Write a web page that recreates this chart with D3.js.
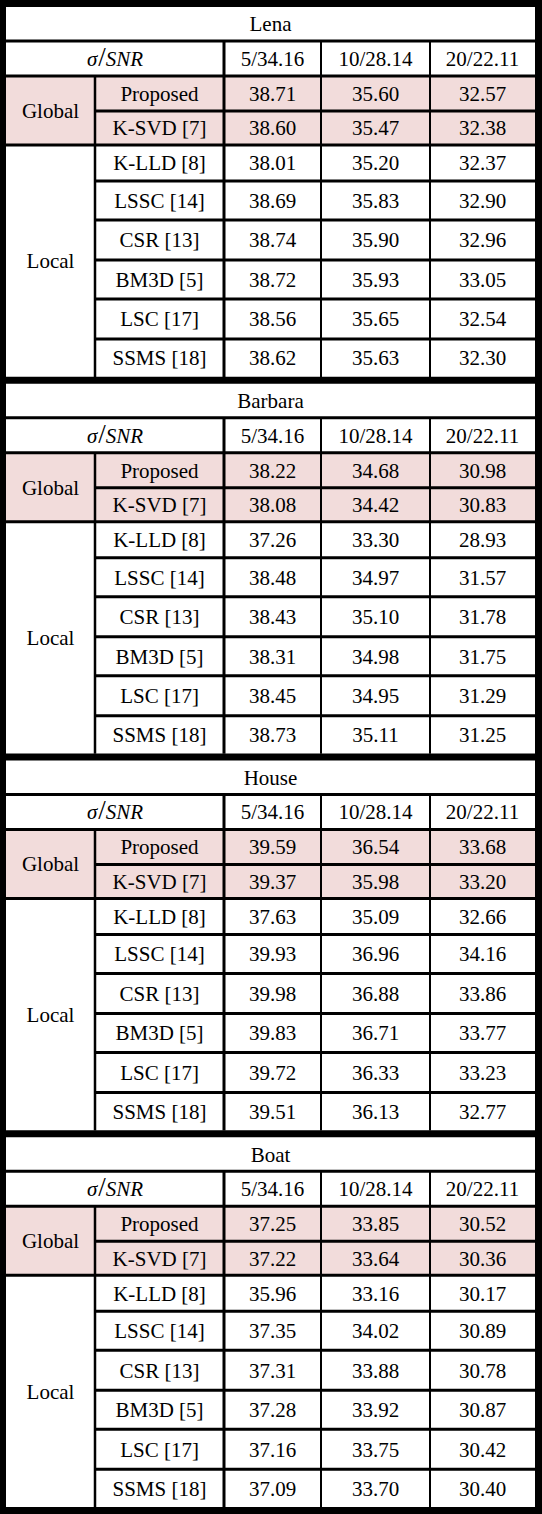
<!DOCTYPE html>
<html>
<head>
<meta charset="utf-8">
<script src="https://cdn.jsdelivr.net/npm/d3@7"></script>
<style>
  body { margin: 0; background: #fff; }
</style>
</head>
<body>
<script>
// table content
const images = ["Lena", "Barbara", "House", "Boat"];
const noiseLevels = ["5/34.16", "10/28.14", "20/22.11"];
const globalMethods = ["Proposed", "K-SVD [7]"];
const localMethods = ["K-LLD [8]", "LSSC [14]", "CSR [13]", "BM3D [5]", "LSC [17]", "SSMS [18]"];

// PSNR per image, rows = Proposed, K-SVD, K-LLD, LSSC, CSR, BM3D, LSC, SSMS
const lenaPSNR = [
  [38.71, 35.60, 32.57], [38.60, 35.47, 32.38],
  [38.01, 35.20, 32.37], [38.69, 35.83, 32.90], [38.74, 35.90, 32.96],
  [38.72, 35.93, 33.05], [38.56, 35.65, 32.54], [38.62, 35.63, 32.30]
];
const barbaraPSNR = [
  [38.22, 34.68, 30.98], [38.08, 34.42, 30.83],
  [37.26, 33.30, 28.93], [38.48, 34.97, 31.57], [38.43, 35.10, 31.78],
  [38.31, 34.98, 31.75], [38.45, 34.95, 31.29], [38.73, 35.11, 31.25]
];
const housePSNR = [
  [39.59, 36.54, 33.68], [39.37, 35.98, 33.20],
  [37.63, 35.09, 32.66], [39.93, 36.96, 34.16], [39.98, 36.88, 33.86],
  [39.83, 36.71, 33.77], [39.72, 36.33, 33.23], [39.51, 36.13, 32.77]
];
const boatPSNR = [
  [37.25, 33.85, 30.52], [37.22, 33.64, 30.36],
  [35.96, 33.16, 30.17], [37.35, 34.02, 30.89], [37.31, 33.88, 30.78],
  [37.28, 33.92, 30.87], [37.16, 33.75, 30.42], [37.09, 33.70, 30.40]
];
const psnr = [lenaPSNR, barbaraPSNR, housePSNR, boatPSNR];

const W = 542, H = 1514;
const border = 7;
const colEdges = [6, 95, 224, 321, 430, 535];
const rowH = [34, 35, 35, 34, 36, 39, 40, 39, 40, 38]; // title, header, 2 global, 6 local
const pink = "#f2dcdb";
const serif = "'Liberation Serif', Tinos, 'Times New Roman', Times, 'DejaVu Serif', serif";

const fmt = d3.format(".2f");
const sectionY = d3.scaleLinear().domain([0, images.length]).range([0, H - border]);
const colMid = i => (colEdges[i] + colEdges[i + 1]) / 2;
const valueX = d3.scaleOrdinal().domain(noiseLevels).range(noiseLevels.map((d, i) => colMid(i + 2)));

const svg = d3.select("body").append("svg").attr("width", W).attr("height", H)
  .attr("font-family", serif).attr("font-size", 21);
svg.append("rect").attr("width", W).attr("height", H).attr("fill", "#fff");

const gText = svg.append("g");
const gLines = svg.append("g");

function hline(y, x1, x2, w) {
  gLines.append("line").attr("x1", x1).attr("x2", x2).attr("y1", y).attr("y2", y)
    .attr("stroke", "#000").attr("stroke-width", w);
}
function vline(x, y1, y2, w) {
  gLines.append("line").attr("x1", x).attr("x2", x).attr("y1", y1).attr("y2", y2)
    .attr("stroke", "#000").attr("stroke-width", w);
}
function label(x, y, t) {
  return gText.append("text").attr("x", x).attr("y", y).attr("dy", "0.35em")
    .attr("text-anchor", "middle").style("font-family", serif).attr("fill", "#000").text(t);
}

images.forEach(function (name, k) {
  const top = sectionY(k) + border;
  const edges = [top];
  rowH.forEach(h => edges.push(edges[edges.length - 1] + h));
  const mid = i => (edges[i] + edges[i + 1]) / 2;

  // global band
  gText.append("rect")
    .attr("x", colEdges[0]).attr("y", edges[2])
    .attr("width", colEdges[5] - colEdges[0]).attr("height", edges[4] - edges[2])
    .attr("fill", pink);

  label((colEdges[0] + colEdges[5]) / 2, mid(0), name);

  const hdr = label((colEdges[0] + colEdges[2]) / 2, mid(1), null);
  hdr.append("tspan").attr("font-style", "italic").text("\u03c3");
  hdr.append("tspan").attr("font-size", "27px").attr("dx", "1").text("/");
  hdr.append("tspan").attr("font-style", "italic").text("SNR");

  noiseLevels.forEach(n => label(valueX(n), mid(1), n));

  label(colMid(0), (edges[2] + edges[4]) / 2, "Global");
  label(colMid(0), (edges[4] + edges[10]) / 2, "Local");

  const methods = globalMethods.concat(localMethods);
  methods.forEach(function (m, r) {
    label(colMid(1), mid(r + 2), m);
    psnr[k][r].forEach((v, c) => label(valueX(noiseLevels[c]), mid(r + 2), fmt(v)));
  });

  // grid lines
  hline(edges[1], colEdges[0], colEdges[5], 3);
  hline(edges[2], colEdges[0], colEdges[5], 3);
  hline(edges[3], colEdges[1], colEdges[5], 3);
  hline(edges[4], colEdges[0], colEdges[5], 3);
  for (let i = 5; i < 10; i++) hline(edges[i], colEdges[1], colEdges[5], 3);
  vline(colEdges[1], edges[2], edges[10], 2.5);
  vline(colEdges[2], edges[1], edges[10], 3);
  vline(colEdges[3], edges[1], edges[10], 2);
  vline(colEdges[4], edges[1], edges[10], 2);

  // thick separator above the section
  gLines.append("rect").attr("x", 0).attr("y", sectionY(k))
    .attr("width", W).attr("height", border).attr("fill", "#000");
});

// outer frame
gLines.append("rect").attr("x", 0).attr("y", H - border).attr("width", W).attr("height", border).attr("fill", "#000");
gLines.append("rect").attr("x", 0).attr("y", 0).attr("width", colEdges[0]).attr("height", H).attr("fill", "#000");
gLines.append("rect").attr("x", colEdges[5]).attr("y", 0).attr("width", W - colEdges[5]).attr("height", H).attr("fill", "#000");
</script>
</body>
</html>
